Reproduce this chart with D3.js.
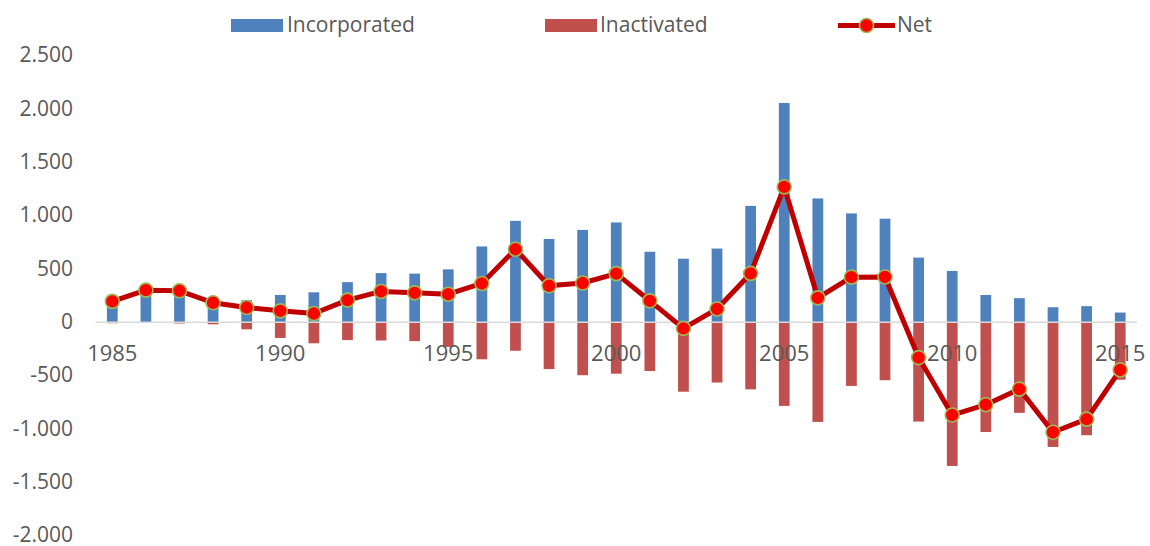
<!DOCTYPE html>
<html>
<head>
<meta charset="utf-8">
<script src="https://cdn.jsdelivr.net/npm/d3@7"></script>
<style>
  body { margin: 0; background: #fff; }
  text { font-family: "Open Sans", sans-serif; fill: #595959; }
</style>
</head>
<body>
<div id="chart"></div>
<script>

// values
var years = d3.range(1985, 2016);
var incorporated = [205, 305, 305, 200, 205, 255, 280, 375, 460, 455, 495, 710, 950, 780, 865, 935,
    660, 595, 690, 1090, 2055, 1160, 1020, 970, 605, 480, 255, 225, 140, 150, 90];
var inactivated = [-10, -5, -12, -20, -67, -148, -198, -168, -172, -178, -232, -348, -268, -440, -497, -483,
    -458, -652, -566, -630, -785, -935, -598, -544, -932, -1348, -1030, -850, -1170, -1060, -540];
var net = [195, 300, 294, 182, 137, 106, 81, 207, 288, 275, 262, 363, 684, 341, 367, 455,
    200, -58, 124, 457, 1268, 228, 422, 424, -332, -871, -774, -628, -1032, -909, -448];
var yTicks = [-2000, -1500, -1000, -500, 0, 500, 1000, 1500, 2000, 2500];
var xLabels = [1985, 1990, 1995, 2000, 2005, 2010, 2015];

var width = 1150, height = 546;
var blue = "#4f81bd", red = "#c0504d", lineRed = "#c00000";

var svg = d3.select("#chart").append("svg")
    .attr("width", width)
    .attr("height", height);

var x = d3.scaleBand()
    .domain(years)
    .range([95.5, 1137])
    .paddingInner(0.68)
    .paddingOuter(0.34);

var y = d3.scaleLinear()
    .domain([-2000, 2500])
    .range([535.5, 55.5]);

var cx = function(yr) { return x(yr) + x.bandwidth() / 2; };

// y axis labels (no line, no ticks)
var fmt = d3.formatLocale({ decimal: ",", thousands: ".", grouping: [3], currency: ["", ""], minus: "-" }).format(",d");
var yAxis = d3.axisLeft(y).tickValues(yTicks).tickFormat(fmt).tickSize(0).tickPadding(0);
svg.append("g")
    .attr("class", "y-axis")
    .attr("transform", "translate(73,0)")
    .call(yAxis)
    .call(function(g) { g.select(".domain").remove(); })
    .selectAll("text")
    .attr("font-size", 21)
    .attr("dy", "0.3em")
    .attr("fill", "#595959")
    .style("font-family", "'Open Sans', sans-serif");

// bars
svg.append("g").selectAll("rect")
    .data(years)
    .enter().append("rect")
    .attr("x", d => x(d))
    .attr("width", x.bandwidth())
    .attr("y", (d, i) => y(incorporated[i]))
    .attr("height", (d, i) => y(0) - y(incorporated[i]))
    .attr("fill", blue);

svg.append("g").selectAll("rect")
    .data(years)
    .enter().append("rect")
    .attr("x", d => x(d))
    .attr("width", x.bandwidth())
    .attr("y", y(0))
    .attr("height", (d, i) => y(inactivated[i]) - y(0))
    .attr("fill", red);

// zero line
svg.append("line")
    .attr("x1", 95.5).attr("x2", 1137)
    .attr("y1", y(0)).attr("y2", y(0))
    .attr("stroke", "#d9d9d9")
    .attr("stroke-width", 1.5);

// year labels sitting under the zero line
svg.append("g").selectAll("text")
    .data(xLabels)
    .enter().append("text")
    .attr("x", d => cx(d))
    .attr("y", 361)
    .attr("text-anchor", "middle")
    .attr("font-size", 22)
    .text(d => d);

// net line
var line = d3.line()
    .x((d, i) => cx(years[i]))
    .y(d => y(d));

svg.append("path")
    .datum(net)
    .attr("d", line)
    .attr("fill", "none")
    .attr("stroke", lineRed)
    .attr("stroke-width", 5)
    .attr("stroke-linejoin", "round");

svg.append("g").selectAll("circle")
    .data(net)
    .enter().append("circle")
    .attr("cx", (d, i) => cx(years[i]))
    .attr("cy", d => y(d))
    .attr("r", 7)
    .attr("fill", "#ff0000")
    .attr("stroke", "#9bbb59")
    .attr("stroke-width", 1.6);

// legend
var legend = svg.append("g");
legend.append("rect").attr("x", 231).attr("y", 19).attr("width", 52).attr("height", 13).attr("fill", blue);
legend.append("text").attr("x", 287).attr("y", 32).attr("font-size", 21).text("Incorporated");
legend.append("rect").attr("x", 545).attr("y", 19).attr("width", 52).attr("height", 13).attr("fill", red);
legend.append("text").attr("x", 600).attr("y", 32).attr("font-size", 21).text("Inactivated");
legend.append("line").attr("x1", 838).attr("x2", 895).attr("y1", 25.5).attr("y2", 25.5)
    .attr("stroke", lineRed).attr("stroke-width", 5);
legend.append("circle").attr("cx", 866.5).attr("cy", 25.5).attr("r", 7)
    .attr("fill", "#ff0000").attr("stroke", "#9bbb59").attr("stroke-width", 1.6);
legend.append("text").attr("x", 897).attr("y", 32).attr("font-size", 21).text("Net");

</script>
</body>
</html>
